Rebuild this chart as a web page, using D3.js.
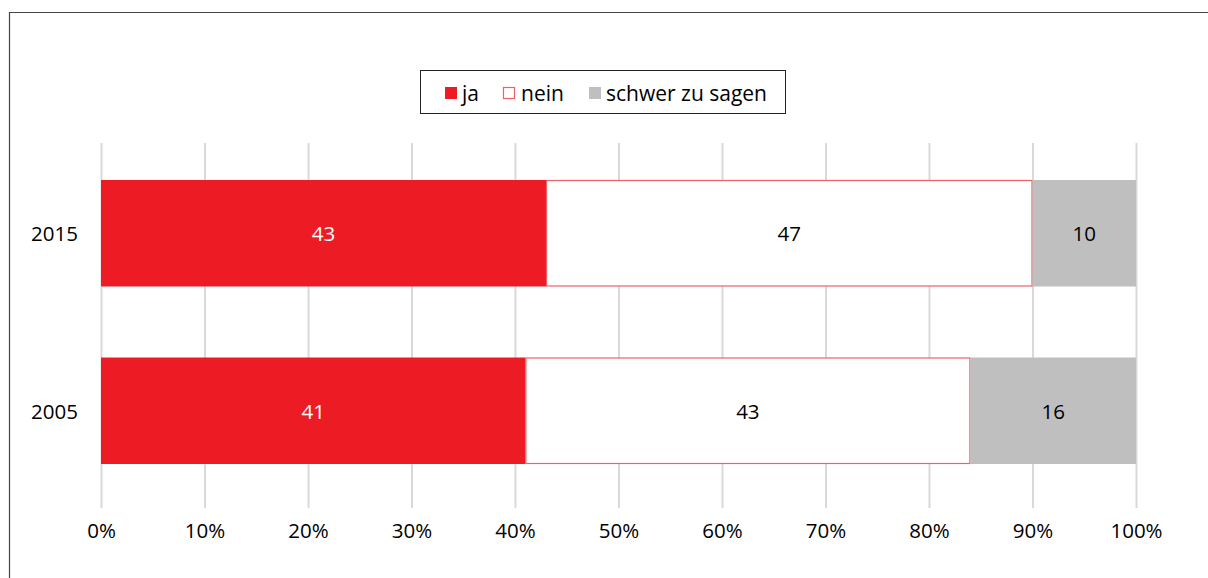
<!DOCTYPE html>
<html><head><meta charset="utf-8">
<script src="https://cdn.jsdelivr.net/npm/d3@7"></script>
<style>body{margin:0;background:#fff}svg{display:block}text{font-family:"Open Sans","Noto Sans",sans-serif}</style>
</head><body>
<svg id="c" width="1208" height="578"></svg>
<script>
const categories = ["2015", "2005"];
const seriesNames = ["ja", "nein", "schwer zu sagen"];
const ja = [43, 41];
const nein = [47, 43];
const schwer = [10, 16];
const tickLabels = ["0%","10%","20%","30%","40%","50%","60%","70%","80%","90%","100%"];
const tickValues = [0,10,20,30,40,50,60,70,80,90,100];

const colors = ["#ed1c24", "#ffffff", "#bfbfbf"];
const strokes = [null, "#f06068", null];
const labelColors = ["#ffffff", "#000000", "#000000"];
const FONT = "'Open Sans','Noto Sans',sans-serif";
const FS = 20.5;

const svg = d3.select("#c");
svg.append("path").attr("d","M9.5,578 V12.5 H1208").attr("fill","none").attr("stroke","#444").attr("stroke-width",1.2);

const x = d3.scaleLinear().domain([0,100]).range([101,1136]);
const y = d3.scaleBand().domain(categories).range([180,464]).paddingInner(0.4).paddingOuter(0);

svg.append("g").selectAll("line").data(tickValues).join("line")
  .attr("x1",d=>x(d)+0.5).attr("x2",d=>x(d)+0.5).attr("y1",143).attr("y2",508)
  .attr("stroke","#d9d9d9").attr("stroke-width",2);

const rows = categories.map((c,i)=>{ const vals=[ja[i],nein[i],schwer[i]]; let acc=0; return vals.map((v,k)=>{const o={cat:c,k,v,x0:acc,x1:acc+v}; acc+=v; return o;});}).flat();

svg.append("g").selectAll("rect").data(rows).join("rect")
  .attr("x",d=>x(d.x0)+(d.k===1?0.5:0)).attr("width",d=>x(d.x1)-x(d.x0)-(d.k===1?1:0))
  .attr("y",d=>y(d.cat)+(d.k===1?0.5:0)).attr("height",d=>y.bandwidth()-(d.k===1?1:0))
  .attr("fill",d=>colors[d.k]).attr("stroke",d=>strokes[d.k]||"none").attr("stroke-width",1.2);

svg.append("g").selectAll("text").data(rows).join("text")
  .attr("x",d=>x((d.x0+d.x1)/2)).attr("y",d=>y(d.cat)+y.bandwidth()/2)
  .attr("text-anchor","middle").attr("dominant-baseline","central")
  .attr("font-size",FS).attr("fill",d=>labelColors[d.k]).text(d=>d.v);

svg.append("g").selectAll("text").data(categories).join("text")
  .attr("x",78).attr("y",d=>y(d)+y.bandwidth()/2).attr("text-anchor","end").attr("dominant-baseline","central")
  .attr("font-size",FS).attr("fill","#000").text(d=>d);

const xAxis = d3.axisBottom(x).tickValues(tickValues).tickFormat((d,i)=>tickLabels[i]).tickSize(0).tickPadding(0);
const gx = svg.append("g").attr("transform","translate(0,530)").call(xAxis);
gx.select(".domain").remove();
gx.selectAll("text").attr("font-size",FS).attr("fill","#000").attr("dy",null).attr("dominant-baseline","central").style("font-family",FONT);

const lg = svg.append("g");
lg.append("rect").attr("x",420.5).attr("y",70.5).attr("width",365).attr("height",43).attr("fill","#fff").attr("stroke","#222").attr("stroke-width",1);
const items = [{x:445,tx:462},{x:503,tx:521},{x:589,tx:606}];
items.forEach((it,k)=>{
  lg.append("rect").attr("x",it.x+(k===1?0.5:0)).attr("y",87+(k===1?0.5:0)).attr("width",k===1?11:12).attr("height",k===1?11:12)
    .attr("fill",colors[k]).attr("stroke",strokes[k]||"none").attr("stroke-width",1.2);
  lg.append("text").attr("x",it.tx).attr("y",93).attr("dominant-baseline","central").attr("font-size",21).attr("fill","#000").text(seriesNames[k]);
});
</script>
</body></html>
